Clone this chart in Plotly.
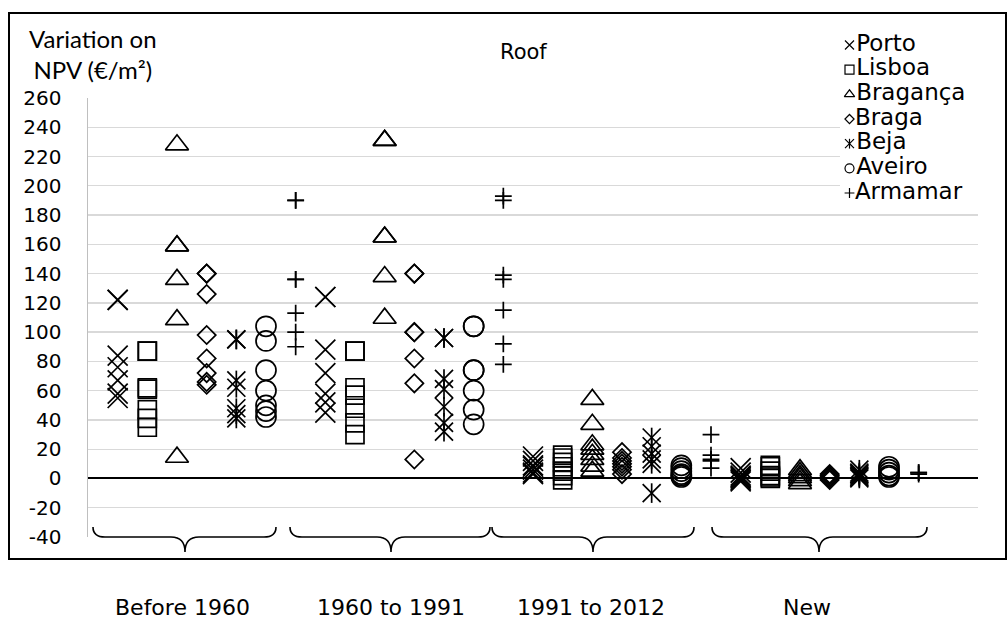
import plotly.graph_objects as go

# ---------------- data ----------------
periods = ["Before 1960", "1960 to 1991", "1991 to 2012", "New"]
cities = ["Porto", "Lisboa", "Bragança", "Braga", "Beja", "Aveiro", "Armamar"]
y_ticks = [-40, -20, 0, 20, 40, 60, 80, 100, 120, 140, 160, 180, 200, 220, 240, 260]

porto = [[122, 122, 84, 76, 67, 58, 55],
         [124, 124, 88, 72, 58, 52, 45],
         [15, 12, 9, 8, 6, 4, 3],
         [7, 4, 2, 1, 0, -1, -2]]
lisboa = [[87, 87, 62, 61, 47, 41, 35],
          [87, 87, 62, 57, 48, 38, 30],
          [16, 14, 11, 8, 5, 2, -1],
          [9, 8, 5, 2, 1, 0]]
braganca = [[228, 159, 159, 136, 108.5, 14.5],
            [231, 231, 165, 165, 138, 109.5],
            [54, 37, 23, 20, 16.5, 13, 8.5, 5],
            [6, 4, 2, 0.5, -1.5, -3.5]]
braga = [[140, 140, 126, 98, 82, 72, 66, 64],
         [140, 140, 100, 100, 82, 65, 13],
         [18, 14, 12, 10, 8, 6, 3],
         [3, 2, 1, 0, -1]]
beja = [[95, 95, 67, 62, 48, 44, 41],
        [96, 96, 68, 61, 49, 38, 32],
        [28, 22, 17, 13, 10, -10],
        [6, 4, 3, 2, 1, 0]]
aveiro = [[104, 94, 74, 60, 50, 46, 42],
          [104, 104, 74, 74, 60, 47, 37],
          [9, 7, 5, 3, 2, 1],
          [8, 6, 4, 2, 1]]
armamar = [[190, 190, 136, 136, 113, 100, 90],
           [193, 190, 139, 136, 115, 92, 78],
           [30, 16, 13, 12, 7],
           [4, 4, 3]]

series = [porto, lisboa, braganca, braga, beja, aveiro, armamar]

# ---------------- styles ----------------
W, H = 1008, 619
PL, PR, PT, PB = 88, 978, 98, 537          # plot area in pixels
FONT = "DejaVu Sans"

# (symbol, size) per city; Beja gets an extra vertical stroke -> 6-arm star
main_sym = [("x-thin-open", 20), ("square-open", 18), ("triangle-up-open", 20),
            ("diamond-open", 14), ("x-thin-open", 18), ("circle-open", 20),
            ("cross-thin-open", 12)]
leg_sym = [("x-thin-open", 9), ("square-open", 9), ("triangle-up-open", 9),
           ("diamond-open", 7), ("x-thin-open", 9), ("circle-open", 9),
           ("cross-thin-open", 7)]

fig = go.Figure()

n_per_group = len(cities)
for j, (name, data) in enumerate(zip(cities, series)):
    xs, ys = [], []
    for g, vals in enumerate(data):
        for v in vals:
            xs.append(g * n_per_group + j + 1)
            ys.append(v)
    sym, size = main_sym[j]
    fig.add_trace(go.Scatter(
        x=xs, y=ys, mode="markers", name=name, showlegend=False,
        marker=dict(symbol=sym, size=size, color="black",
                    line=dict(color="black", width=1.7)),
        hoverinfo="skip"))
    if name == "Beja":
        fig.add_trace(go.Scatter(
            x=xs, y=ys, mode="markers", showlegend=False,
            marker=dict(symbol="line-ns-open", size=14, color="black",
                        line=dict(color="black", width=1.7)),
            hoverinfo="skip"))

# ---------------- custom legend (overlay axis) ----------------
leg_x_px, leg_top_px, leg_step = 849.5, 45, 24.67
n = len(cities)
leg_rows = list(range(n - 1, -1, -1))
for j, name in enumerate(cities):
    sym, size = leg_sym[j]
    fig.add_trace(go.Scatter(
        x=[0], y=[leg_rows[j]], mode="markers+text", text=[name],
        textposition="middle right", xaxis="x2", yaxis="y2", showlegend=False,
        textfont=dict(family=FONT, size=23, color="black"),
        marker=dict(symbol=sym, size=size, color="black",
                    line=dict(color="black", width=1.2)),
        hoverinfo="skip"))
    if name == "Beja":
        fig.add_trace(go.Scatter(
            x=[0], y=[leg_rows[j]], mode="markers", xaxis="x2", yaxis="y2",
            showlegend=False,
            marker=dict(symbol="line-ns-open", size=7, color="black",
                        line=dict(color="black", width=1.2)),
            hoverinfo="skip"))

ax2_l, ax2_r = 840, 1000
ax2_t, ax2_b = 30, 208
top_val = (n - 1) + (leg_top_px - ax2_t) / leg_step
bot_val = top_val - (ax2_b - ax2_t) / leg_step

# ---------------- braces & border ----------------
def px_to_paper(x, y):
    return x / W, 1 - y / H

def P(x, y):
    px, py = px_to_paper(x, y)
    return f"{px:.5f},{py:.5f}"

shapes = []
brace_spans = [(93, 276), (290, 490), (492, 694), (712, 927)]
brace_tips = [185, 391, 593, 819]
y_end, y_mid, y_tip = 527, 537, 552
for (x1, x2), xm in zip(brace_spans, brace_tips):
    path = (f"M{P(x1, y_end)} Q{P(x1, y_mid)} {P(x1 + 12, y_mid)} "
            f"L{P(xm - 14, y_mid)} Q{P(xm, y_mid)} {P(xm, y_tip)} "
            f"Q{P(xm, y_mid)} {P(xm + 14, y_mid)} "
            f"L{P(x2 - 12, y_mid)} Q{P(x2, y_mid)} {P(x2, y_end)}")
    shapes.append(dict(type="path", path=path, xref="paper", yref="paper",
                       line=dict(color="black", width=1.6)))

bx0, by0 = px_to_paper(9, 559)
bx1, by1 = px_to_paper(1006, 13)
shapes.append(dict(type="rect", xref="paper", yref="paper",
                   x0=bx0, y0=by0, x1=bx1, y1=by1,
                   line=dict(color="black", width=2), layer="below"))

# ---------------- annotations ----------------
annotations = []
label_x = [182, 391, 591, 807]
for lab, lx in zip(periods, label_x):
    ax, ay = px_to_paper(lx, 607)
    annotations.append(dict(text=lab, x=ax, y=ay, xref="paper", yref="paper",
                            xanchor="center", yanchor="middle", showarrow=False,
                            font=dict(family=FONT, size=22, color="black")))
tx, ty = px_to_paper(523, 52)
annotations.append(dict(text="Roof", x=tx, y=ty, xref="paper", yref="paper",
                        xanchor="center", yanchor="middle", showarrow=False,
                        font=dict(family=FONT, size=21, color="black")))
yx, yy = px_to_paper(93, 54)
annotations.append(dict(text="Variation on<br>NPV (€/m²)", x=yx, y=yy,
                        xref="paper", yref="paper", xanchor="center",
                        yanchor="middle", showarrow=False, align="center",
                        font=dict(family="Lato", size=24, color="black")))

fig.update_layout(
    width=W, height=H,
    margin=dict(l=0, r=0, t=0, b=0, pad=0, autoexpand=False),
    paper_bgcolor="white", plot_bgcolor="white",
    showlegend=False,
    xaxis=dict(domain=[PL / W, PR / W], range=[0, 4 * n_per_group + 2],
               showgrid=False, zeroline=False, showline=False,
               showticklabels=False, ticks="", automargin=False),
    yaxis=dict(domain=[1 - PB / H, 1 - PT / H], range=[-40, 260],
               tickvals=y_ticks, ticktext=[str(v) for v in y_ticks],
               showgrid=True, gridcolor="#d9d9d9", gridwidth=1.3,
               zeroline=True, zerolinecolor="black", zerolinewidth=2,
               showline=True, linecolor="#bfbfbf", linewidth=1.5,
               ticks="", ticklabelstandoff=21, automargin=False,
               tickfont=dict(family=FONT, size=20, color="black")),
    xaxis2=dict(domain=[ax2_l / W, ax2_r / W],
                range=[-(leg_x_px - ax2_l), ax2_r - leg_x_px],
                visible=False, anchor="y2"),
    yaxis2=dict(domain=[1 - ax2_b / H, 1 - ax2_t / H], range=[bot_val, top_val],
                visible=False, anchor="x2"),
    shapes=shapes,
    annotations=annotations,
)

js = ("document.documentElement.style.margin='0';"
      "document.body.style.margin='0';"
      "document.body.style.overflow='hidden';")

fig.write_html("out.html", config={"displayModeBar": False, "staticPlot": True},
               post_script=js)
